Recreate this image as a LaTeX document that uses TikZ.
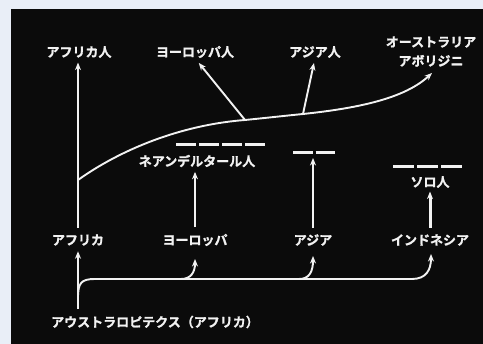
\documentclass[tikz,border=0pt]{standalone}
\usepackage{fontspec}
\newfontfamily\jp{Noto Sans CJK JP}[BoldFont={* Bold},BoldFeatures={FakeBold=1.2}]
\usetikzlibrary{arrows.meta}
\definecolor{bg}{HTML}{E9EEF7}
\definecolor{board}{HTML}{0B0B0B}
\definecolor{ink}{HTML}{F2F2F2}
\begin{document}
\begin{tikzpicture}[x=1pt,y=-1pt,
  lab/.style={text=ink,font=\jp\bfseries\fontsize{13}{19}\selectfont,inner sep=0pt},
  wline/.style={draw=ink,line width=1.9pt},
  arr/.style={wline,-{Stealth[length=7.5pt,width=6pt]}},
  bar/.style={draw=ink,line width=3pt}]
\fill[bg] (0,0) rectangle (483,344);
\fill[board] (11,9) rectangle (483,344);
\useasboundingbox (0,0) rectangle (483,344);
% labels
\node[lab] (afrjin) at (79,52) {アフリカ人};
\node[lab] (eurjin) at (195,52) {ヨーロッパ人};
\node[lab] (asijin) at (315,52) {アジア人};
\node[lab,align=center] (abo) at (431,51.5) {オーストラリア\\アボリジニ};
\node[lab] (nea) at (197,161) {ネアンデルタール人};
\node[lab] (solo) at (430,182) {ソロ人};
\node[lab] (afr) at (78,240) {アフリカ};
\node[lab] (eur) at (195,240) {ヨーロッパ};
\node[lab] (asi) at (313,240) {アジア};
\node[lab] (ind) at (430,240) {インドネシア};
\node[lab] (aus) at (155,322) {アウストラロピテクス（アフリカ）};
% coordinates
\coordinate (root) at (78,180);
\coordinate (eb) at (245,120);
\coordinate (ab) at (303,114);
\coordinate (abotip) at (432,73);
\coordinate (asd) at (314,153);
\coordinate (hb) at (78,298);
\coordinate (eh) at (181,279);
\coordinate (ah) at (299,279);
\coordinate (eurin) at (195,259);
\coordinate (asin) at (313,256);
\coordinate (indin) at (431,254);
% Africa line
\draw[arr,shorten <=6.5pt,shorten >=4.5pt] (afr.north) -- (afr.north |- afrjin.south);
% main curve
\draw[arr] (root) .. controls (120,150) and (180,125) .. (eb)
  .. controls (265,118) and (283,116) .. (ab)
  .. controls (360,108) and (405,98) .. (abotip);
\draw[arr,shorten >=6pt] (eb) -- (eurjin.south);
\draw[arr,shorten >=5pt] (ab) -- (asijin.south);
% bottom
\draw[arr,shorten <=6.5pt,shorten >=5.5pt] (afr |- aus.north) -- (afr.south);
\draw[arr] (hb) .. controls (78,283) and (81,279) .. (95,279) -- (412,279)
  .. controls (426,279) and (431,270) .. (indin);
\draw[arr] (eh) .. controls (191,279) and (195,272) .. (eurin);
\draw[arr] (ah) .. controls (309,279) and (313,272) .. (asin);
% vertical arrows
\draw[arr,shorten <=6.5pt,shorten >=4.5pt] (eur.north) -- (eur.north |- nea.south);
\draw[arr,shorten <=6.5pt,shorten >=5pt] (asi.north) -- (asi.north |- asd);
\draw[arr,line width=3pt,shorten <=6.5pt,shorten >=3.5pt] (ind.north) -- (solo.south);
% dashes
\draw[bar,dash pattern=on 20pt off 3pt] (176,145) -- (265,145);
\draw[bar,dash pattern=on 19.5pt off 3pt] (293,153) -- (335,153);
\draw[bar,dash pattern=on 21pt off 3pt] (393,167) -- (462,167);
\end{tikzpicture}
\end{document}
